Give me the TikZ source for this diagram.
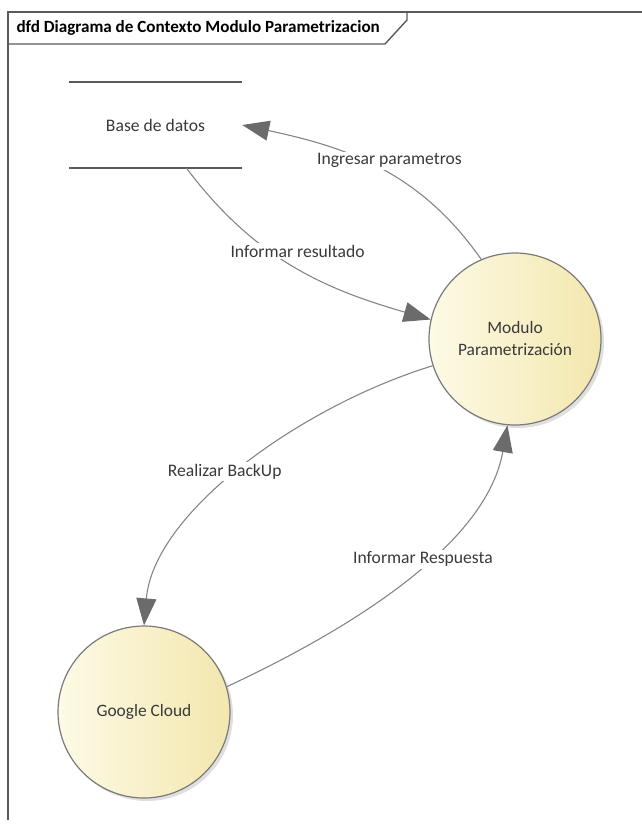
\documentclass[tikz,border=0pt]{standalone}
\usepackage{fontspec}
\setmainfont{Carlito}
\usetikzlibrary{arrows.meta,shadows}

\definecolor{marcogris}{HTML}{5A5A5A}
\definecolor{lineagris}{HTML}{858585}
\definecolor{puntagris}{HTML}{6B6B6B}
\definecolor{bordegris}{HTML}{7A7A7A}
\definecolor{textogris}{HTML}{3A3A3A}
\definecolor{amarilloA}{HTML}{FDFAE6}
\definecolor{amarilloB}{HTML}{F3E7AE}

\tikzset{
  marco/.style={draw=marcogris, line width=1.4pt},
  proceso/.style={circle, draw=bordegris, line width=1.2pt, minimum size=172pt,
    left color=amarilloA, right color=amarilloB, align=center,
    drop shadow={shadow xshift=3pt, shadow yshift=-3pt, opacity=0.25},
    text=textogris, font=\fontsize{17.4}{22}\selectfont},
  almacen/.style={minimum width=173pt, minimum height=86pt, inner sep=0pt,
    text=textogris, font=\fontsize{17.6}{22}\selectfont},
  flujo/.style={draw=lineagris, line width=1.1pt,
    -{Triangle[length=27pt, width=20pt, color=puntagris]}},
  etiqueta/.style={fill=white, inner sep=2pt, text=textogris,
    font=\fontsize{17.6}{22}\selectfont},
}

\begin{document}
\begin{tikzpicture}[x=1pt, y=1pt]
\useasboundingbox (0,0) rectangle (642,-825);

% marco del diagrama
\draw[marco] (8,-820) -- (8,-12) -- (642,-12);
\draw[marco] (8,-44) -- (385,-44) -- (407,-20) -- (407,-12);
\node[anchor=west, font=\bfseries\fontsize{17.1}{20}\selectfont] (titulo) at (13,-28)
  {dfd Diagrama de Contexto Modulo Parametrizacion};

% almacen de datos
\node[almacen] (bd) at (155.5,-125) {Base de datos};
\draw[draw=marcogris, line width=2pt] (bd.north west) -- (bd.north east);
\draw[draw=marcogris, line width=2pt] (bd.south west) -- (bd.south east);

% procesos
\node[proceso] (mod) at (515,-339) {Modulo\\Parametrización};
\node[proceso] (gc) at (144,-712) {Google Cloud};

% flujos
\draw[flujo] (mod.113) to[out=125, in=-12]
  node[etiqueta, pos=0.45, yshift=13pt] (ingresar) {Ingresar parametros} (bd.east);
\draw[flujo] ([xshift=31pt]bd.south) to[out=-53, in=164]
  node[etiqueta, pos=0.4, xshift=27pt] (informar) {Informar resultado} (mod.167);
\draw[flujo] (mod.198) to[out=197, in=85, out distance=135pt, in distance=115pt]
  node[etiqueta, pos=0.5, xshift=-19pt, yshift=-4pt] (backup) {Realizar BackUp} (gc.north);
\draw[flujo] (gc.17) to[out=25, in=-100, out distance=125pt, in distance=125pt]
  node[etiqueta, pos=0.6, xshift=-9pt, yshift=-4pt] (respuesta) {Informar Respuesta} (mod.265);
\end{tikzpicture}
\end{document}
